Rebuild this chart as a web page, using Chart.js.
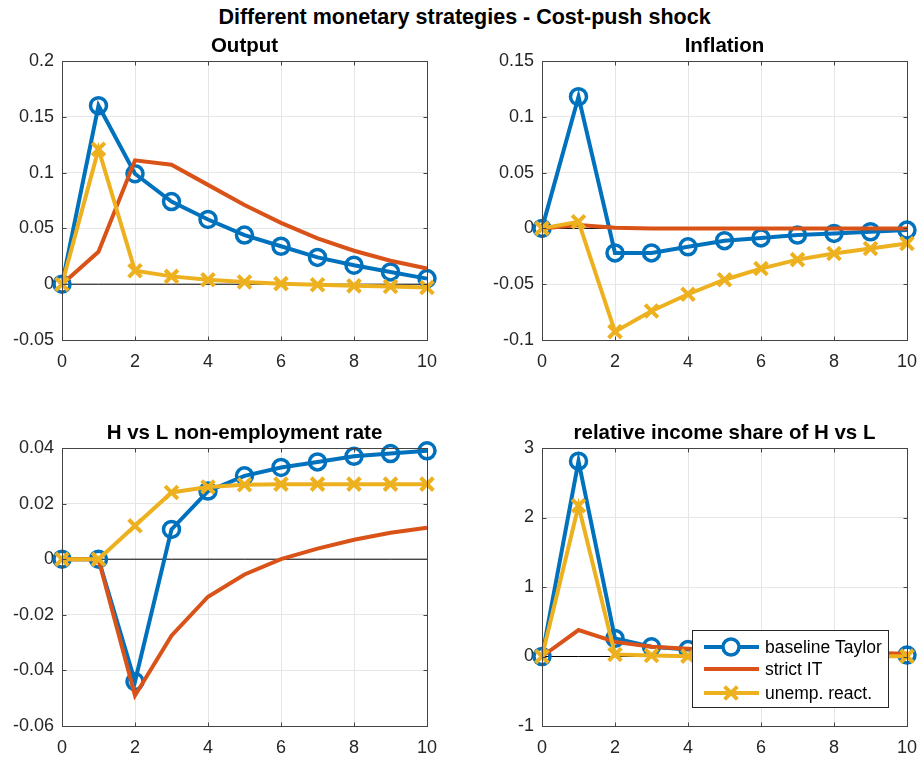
<!DOCTYPE html>
<html>
<head>
<meta charset="utf-8">
<script src="https://cdn.jsdelivr.net/npm/chart.js@4"></script>
<style>
  html, body { margin: 0; padding: 0; background: #fff; overflow: hidden; }
  body { width: 919px; height: 758px; position: relative; overflow: hidden; font-family: "Liberation Sans", Arial, sans-serif; }
  #suptitle { position: absolute; left: 0; width: 929px; top: 5px; text-align: center; font-weight: bold; font-size: 21.5px; color: #000; }
  canvas { position: absolute; }
</style>
</head>
<body>
<div id="suptitle">Different monetary strategies - Cost-push shock</div>
<canvas id="c1"></canvas>
<canvas id="c2"></canvas>
<canvas id="c3"></canvas>
<canvas id="c4"></canvas>
<script>
// horizon
const periods = [0, 1, 2, 3, 4, 5, 6, 7, 8, 9, 10];
const seriesNames = ['baseline Taylor', 'strict IT', 'unemp. react.'];

// Output
const outBaseline = [0, 0.160, 0.099, 0.074, 0.058, 0.044, 0.034, 0.024, 0.017, 0.011, 0.005];
const outStrict   = [0, 0.029, 0.111, 0.107, 0.089, 0.071, 0.055, 0.041, 0.030, 0.021, 0.014];
const outUnemp    = [0, 0.121, 0.012, 0.007, 0.004, 0.002, 0.0005, -0.0005, -0.0015, -0.002, -0.003];

// Inflation
const infBaseline = [0, 0.118, -0.022, -0.022, -0.0165, -0.011, -0.0085, -0.006, -0.0045, -0.003, -0.0015];
const infStrict   = [0, 0.003, 0.0005, 0, 0, 0, 0, 0, 0, 0, 0];
const infUnemp    = [0, 0.006, -0.0925, -0.074, -0.059, -0.046, -0.036, -0.028, -0.0225, -0.018, -0.0135];

// H vs L non-employment rate
const nerBaseline = [0, 0, -0.044, 0.0107, 0.0245, 0.030, 0.033, 0.035, 0.037, 0.038, 0.039];
const nerStrict   = [0, 0, -0.049, -0.0275, -0.0135, -0.0055, 0, 0.0038, 0.007, 0.0095, 0.0113];
const nerUnemp    = [0, 0, 0.012, 0.024, 0.026, 0.0268, 0.027, 0.027, 0.027, 0.027, 0.027];

// relative income share of H vs L
const shrBaseline = [0, 2.81, 0.26, 0.14, 0.10, 0.07, 0.05, 0.04, 0.03, 0.025, 0.02];
const shrStrict   = [0, 0.38, 0.21, 0.14, 0.11, 0.09, 0.08, 0.07, 0.06, 0.05, 0.04];
const shrUnemp    = [0, 2.17, 0.03, 0.015, 0.005, 0.005, 0.005, 0.005, 0.005, 0.005, 0.005];

const xTicks = [0, 2, 4, 6, 8, 10];

const BLUE = '#0072BD', ORANGE = '#D95319', YELLOW = '#EDB120';
const FONT = '"Liberation Sans", Arial, sans-serif';

// box around the axes with inward tick marks (MATLAB "box on")
const boxPlugin = {
    id: 'axesBox',
    afterDatasetsDraw(chart) {
        const a = chart.chartArea, ctx = chart.ctx;
        const L = Math.round(a.left) + 0.5, T = Math.round(a.top) + 0.5;
        const R = Math.round(a.right) + 0.5, B = Math.round(a.bottom) + 0.5;
        const tl = 4;
        ctx.save();
        ctx.strokeStyle = '#444';
        ctx.lineWidth = 1;
        ctx.strokeRect(L, T, R - L, B - T);
        ctx.beginPath();
        chart.scales.x.ticks.forEach(t => {
            const px = Math.round(chart.scales.x.getPixelForValue(t.value)) + 0.5;
            ctx.moveTo(px, B); ctx.lineTo(px, B - tl);
            ctx.moveTo(px, T); ctx.lineTo(px, T + tl);
        });
        chart.scales.y.ticks.forEach(t => {
            const py = Math.round(chart.scales.y.getPixelForValue(t.value)) + 0.5;
            ctx.moveTo(L, py); ctx.lineTo(L + tl, py);
            ctx.moveTo(R, py); ctx.lineTo(R - tl, py);
        });
        ctx.stroke();
        ctx.restore();
    }
};

// legend drawn inside the axes, lower right
const legendPlugin = {
    id: 'insideLegend',
    afterDraw(chart, args, opts) {
        if (!opts.show) return;
        const a = chart.chartArea, ctx = chart.ctx;
        const w = 196, h = 77;
        const x0 = a.right - 19 - w, y0 = a.bottom - 19 - h;
        ctx.save();
        ctx.fillStyle = '#fff';
        ctx.fillRect(x0, y0, w, h);
        ctx.strokeStyle = '#262626';
        ctx.lineWidth = 1;
        ctx.strokeRect(Math.round(x0) + 0.5, Math.round(y0) + 0.5, w, h);
        ctx.font = '17.5px ' + FONT;
        ctx.textBaseline = 'middle';
        const rows = [17, 39, 63];
        chart.data.datasets.slice(0, 3).forEach((ds, i) => {
            const y = y0 + rows[i];
            ctx.strokeStyle = ds.borderColor;
            ctx.lineWidth = 4;
            ctx.beginPath();
            ctx.moveTo(x0 + 12, y);
            ctx.lineTo(x0 + 67, y);
            ctx.stroke();
            if (ds.pointStyle !== false) {
                ctx.lineWidth = ds.pointBorderWidth;
                Chart.helpers.drawPoint(ctx, {
                    pointStyle: ds.pointStyle, rotation: 0,
                    radius: ds.pointRadius, borderWidth: ds.pointBorderWidth
                }, x0 + 39, y);
            }
            ctx.fillStyle = '#000';
            ctx.fillText(ds.label, x0 + 73, y + 1);
        });
        ctx.restore();
    }
};

function makeDatasets(b, s, u) {
    return [
        { label: seriesNames[0], data: b, borderColor: BLUE, backgroundColor: 'rgba(0,0,0,0)',
          borderWidth: 4, pointStyle: 'circle', pointRadius: 8, pointBorderWidth: 3.5,
          pointBackgroundColor: 'rgba(0,0,0,0)', pointBorderColor: BLUE, clip: false, order: 3 },
        { label: seriesNames[1], data: s, borderColor: ORANGE, backgroundColor: ORANGE,
          borderWidth: 4, pointStyle: false, pointRadius: 0, clip: false, order: 2 },
        { label: seriesNames[2], data: u, borderColor: YELLOW, backgroundColor: 'rgba(0,0,0,0)',
          borderWidth: 4, pointStyle: 'crossRot', pointRadius: 9, pointBorderWidth: 4,
          pointBorderColor: YELLOW, clip: false, order: 1 },
        { label: 'zero', data: periods.map(() => 0), borderColor: '#000', borderWidth: 1,
          pointRadius: 0, order: 10 }
    ];
}

function tickFmt(v) {
    const r = Math.round(v * 10000) / 10000;
    return String(r);
}

function makeChart(id, box, title, yMin, yMax, yStep, datasets, showLegend) {
    const cv = document.getElementById(id);
    cv.style.left = box.left + 'px';
    cv.style.top = box.top + 'px';
    cv.style.width = box.width + 'px';
    cv.style.height = box.height + 'px';
    cv.width = box.width;
    cv.height = box.height;
    return new Chart(cv.getContext('2d'), {
        type: 'line',
        data: { labels: periods, datasets: datasets },
        options: {
            responsive: false,
            animation: false,
            devicePixelRatio: 1,
            layout: { padding: { top: 0, right: 33, left: 0, bottom: 0 } },
            plugins: {
                legend: { display: false },
                tooltip: { enabled: false },
                title: {
                    display: true, text: title, fullSize: false, color: '#000',
                    font: { family: FONT, size: 20.5, weight: 'bold', lineHeight: 1.2 },
                    padding: { top: 4, bottom: 2.4 }
                },
                insideLegend: { show: showLegend }
            },
            scales: {
                x: {
                    type: 'linear', min: 0, max: 10,
                    afterBuildTicks: s => { s.ticks = xTicks.map(v => ({ value: v })); },
                    afterFit: s => { s.height = 35; },
                    grid: { color: '#e6e6e6', drawTicks: false },
                    border: { color: '#444', width: 1 },
                    ticks: { color: '#262626', padding: 11, maxRotation: 0,
                             font: { family: FONT, size: 18 } }
                },
                y: {
                    min: yMin, max: yMax,
                    afterFit: s => { s.width = 62; },
                    grid: { color: '#e6e6e6', drawTicks: false },
                    border: { color: '#444', width: 1 },
                    ticks: { color: '#262626', padding: 8, stepSize: yStep, callback: tickFmt,
                             font: { family: FONT, size: 18 } }
                }
            }
        },
        plugins: [boxPlugin, legendPlugin]
    });
}

makeChart('c1', { left: 0, top: 30, width: 460, height: 345 }, 'Output',
    -0.05, 0.2, 0.05, makeDatasets(outBaseline, outStrict, outUnemp), false);
makeChart('c2', { left: 480, top: 30, width: 460, height: 345 }, 'Inflation',
    -0.1, 0.15, 0.05, makeDatasets(infBaseline, infStrict, infUnemp), false);
makeChart('c3', { left: 0, top: 417, width: 460, height: 344 }, 'H vs L non-employment rate',
    -0.06, 0.04, 0.02, makeDatasets(nerBaseline, nerStrict, nerUnemp), false);
makeChart('c4', { left: 480, top: 417, width: 460, height: 344 }, 'relative income share of H vs L',
    -1, 3, 1, makeDatasets(shrBaseline, shrStrict, shrUnemp), true);
</script>
</body>
</html>
